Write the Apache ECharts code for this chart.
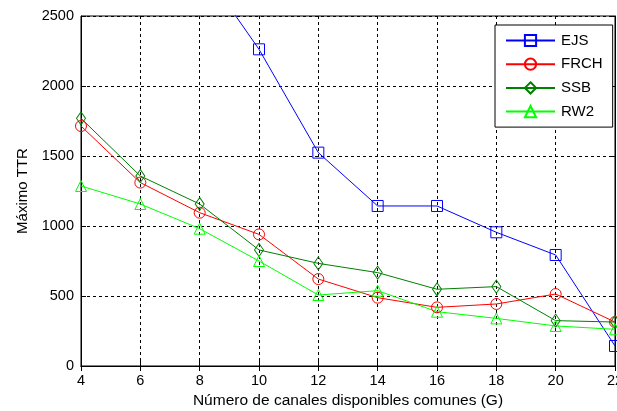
<!DOCTYPE html>
<html>
<head>
<meta charset="utf-8">
<script src="https://cdn.jsdelivr.net/npm/echarts@6/dist/echarts.min.js"></script>
<style>
html,body{margin:0;padding:0;background:#fff;}
#main{width:617px;height:411px;}
</style>
</head>
<body>
<div id="main"></div>
<script>
var xValues = [4, 6, 8, 10, 12, 14, 16, 18, 20, 22];
var ejs  = [null, null, 2870, 2262, 1524, 1143, 1143, 955, 793, 143];
var frch = [1714, 1310, 1095, 940, 621, 488, 419, 443, 514, 314];
var ssb  = [1769, 1357, 1157, 829, 733, 667, 548, 567, 324, 314];
var rw2  = [1286, 1157, 981, 750, 507, 538, 388, 340, 286, 262];
var seriesNames = ['EJS', 'FRCH', 'SSB', 'RW2'];
var yTicks = [0, 500, 1000, 1500, 2000, 2500];

function pairs(arr) {
  return xValues.map(function (x, i) { return [x, arr[i]]; });
}

var font = 'Liberation Sans, Arial, sans-serif';
var chart = echarts.init(document.getElementById('main'), null, {renderer: 'canvas'});

function mkSeries(name, data, color, symbol, size) {
  return {
    name: name,
    type: 'line',
    data: pairs(data),
    symbol: symbol,
    symbolSize: size,
    showSymbol: true,
    clip: true,
    connectNulls: false,
    animation: false,
    lineStyle: {color: color, width: 1},
    itemStyle: {color: 'rgba(255,255,255,0)', borderColor: color, borderWidth: 1},
    emphasis: {disabled: true}
  };
}

var option = {
  backgroundColor: '#fff',
  animation: false,
  grid: {left: 81, right: 2, top: 16, bottom: 45, show: true, borderColor: '#000', borderWidth: 1,
    backgroundColor: 'rgba(0,0,0,0)', containLabel: false, outerBoundsMode: 'none'},
  legend: {
    orient: 'vertical',
    left: 495,
    top: 25,
    padding: [8, 10, 8, 10],
    itemWidth: 49,
    itemHeight: 14,
    itemGap: 8.7,
    backgroundColor: '#fff',
    borderColor: '#000',
    borderWidth: 1,
    textStyle: {fontFamily: font, fontSize: 15, color: '#000', padding: [0, 0, 0, 1]},
    data: seriesNames
  },
  xAxis: [{
    type: 'value',
    min: 4, max: 22, interval: 2,
    name: 'Número de canales disponibles comunes (G)',
    nameLocation: 'middle',
    nameGap: 26,
    nameTextStyle: {fontFamily: font, fontSize: 15.5, color: '#000'},
    axisLine: {show: true, lineStyle: {color: '#000', width: 1}},
    axisTick: {show: true, inside: true, length: 5, lineStyle: {color: '#000'}},
    axisLabel: {fontFamily: font, fontSize: 14.5, color: '#000', margin: 7},
    splitLine: {show: true, lineStyle: {color: '#000', type: [3, 3], width: 1}}
  }, {
    type: 'value', position: 'top',
    min: 4, max: 22, interval: 2,
    axisLine: {show: true, lineStyle: {color: '#000'}},
    axisTick: {show: true, inside: true, length: 5, lineStyle: {color: '#000'}},
    axisLabel: {show: false},
    splitLine: {show: false}
  }],
  yAxis: [{
    type: 'value',
    min: 0, max: 2500, interval: 500,
    name: 'Máximo TTR',
    nameLocation: 'middle',
    nameGap: 50,
    nameTextStyle: {fontFamily: font, fontSize: 15, color: '#000'},
    axisLine: {show: true, lineStyle: {color: '#000', width: 1}},
    axisTick: {show: true, inside: true, length: 5, lineStyle: {color: '#000'}},
    axisLabel: {fontFamily: font, fontSize: 14.5, color: '#000', margin: 7,
      formatter: function (v) { return yTicks.indexOf(v) >= 0 ? String(v) : ''; }},
    splitLine: {show: true, lineStyle: {color: '#000', type: [3, 3], width: 1}}
  }, {
    type: 'value', position: 'right',
    min: 0, max: 2500, interval: 500,
    axisLine: {show: true, lineStyle: {color: '#000'}},
    axisTick: {show: true, inside: true, length: 5, lineStyle: {color: '#000'}},
    axisLabel: {show: false},
    splitLine: {show: false}
  }],
  series: [
    mkSeries('EJS', ejs, '#0000ff', 'rect', 11),
    mkSeries('FRCH', frch, '#ff0000', 'circle', 11),
    mkSeries('SSB', ssb, '#008000', 'diamond', [9, 13]),
    mkSeries('RW2', rw2, '#00ff00', 'triangle', 11)
  ]
};
chart.setOption(option);
</script>
</body>
</html>
